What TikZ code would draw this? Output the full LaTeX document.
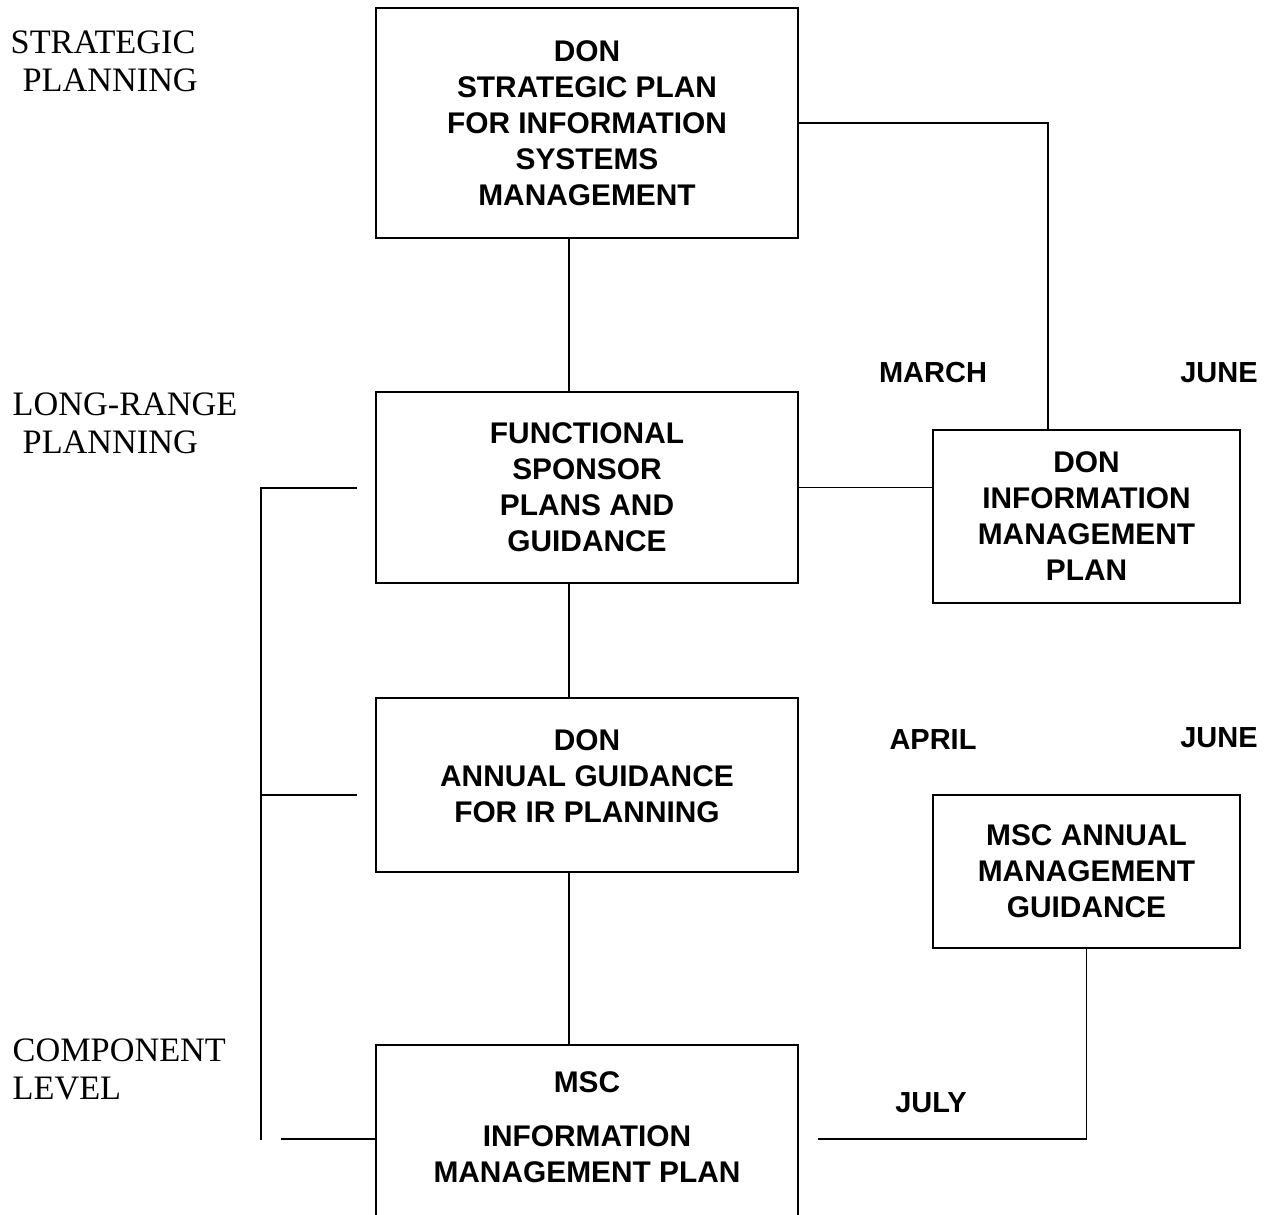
\documentclass[tikz,border=0pt]{standalone}
\usepackage{fontspec}
\setmainfont{Liberation Serif}
\setsansfont{Liberation Sans}
\usetikzlibrary{positioning}

\begin{document}
\begin{tikzpicture}[x=0.02cm,y=-0.02cm,line width=0.8pt,
                    box/.style={draw,rectangle,inner sep=0pt,align=center,font=\sffamily\bfseries\fontsize{17}{20.5}\selectfont},
                    boxtext/.style={inner sep=0pt,align=center,font=\sffamily\bfseries\fontsize{17}{20.5}\selectfont},
                    month/.style={inner sep=0pt,font=\sffamily\bfseries\fontsize{16.5}{20}\selectfont},
                    level/.style={inner sep=0pt,align=left,anchor=base west,font=\fontsize{19.5}{21.6}\selectfont}]
\clip (0,0) rectangle (1267,1214);

% planning levels
\node[level] (LStrat) at (10,91) {STRATEGIC\\\hspace{6.8pt}PLANNING};
\node[level] (LLong) at (12,453) {LONG-RANGE\\\hspace{5.7pt}PLANNING};
\node[level] (LComp) at (12,1099) {COMPONENT\\LEVEL};

% main column
\node[box,minimum width=8.44cm,minimum height=4.6cm] (Strat) at (587,123) {DON\\STRATEGIC PLAN\\FOR INFORMATION\\SYSTEMS\\MANAGEMENT};
\node[box,minimum width=8.44cm,minimum height=3.82cm] (Func) at (587,487.5) {FUNCTIONAL\\SPONSOR\\PLANS AND\\GUIDANCE};
\node[box,minimum width=8.44cm,minimum height=3.48cm] (Annual) at (587,785) {DON\\ANNUAL GUIDANCE\\FOR IR PLANNING\\[-16pt]\strut};
\node[box,minimum width=8.44cm,minimum height=4cm] (Msc) at (587,1145) {};
\node[boxtext] (MscText) at (587,1127) {MSC\\[10pt]INFORMATION\\MANAGEMENT PLAN};

% right column
\node[box,minimum width=6.14cm,minimum height=3.46cm] (DonIM) at (1086.5,516.5) {DON\\INFORMATION\\MANAGEMENT\\PLAN};
\node[box,minimum width=6.14cm,minimum height=3.06cm] (MscGuide) at (1086.5,871.5) {MSC ANNUAL\\MANAGEMENT\\GUIDANCE};

% months
\node[month] (March) at (933,373) {MARCH};
\node[month] (JuneA) at (1219,373) {JUNE};
\node[month] (April) at (933,740) {APRIL};
\node[month] (JuneB) at (1219,738) {JUNE};
\node[month] (July) at (931,1103) {JULY};

% connectors
\coordinate (Spine) at (569,0);
\coordinate (Riser) at (1048,0);
\coordinate (JulyEnd) at (818,1139);
\coordinate (RailTop) at (261,488);
\coordinate (RailBot) at (261,1140);
\coordinate (FuncStub) at (357,488);
\coordinate (AnnStub) at (357,795);
\coordinate (MscStub) at (281,1139);

\draw (Strat.south -| Spine) -- (Func.north -| Spine);
\draw (Func.south -| Spine) -- (Annual.north -| Spine);
\draw (Annual.south -| Spine) -- (Msc.north -| Spine);
\draw (Strat.east) -| (DonIM.north -| Riser);
\draw (Func.east) -- (Func.east -| DonIM.west);
\draw (MscGuide.south) |- (JulyEnd);
\draw (FuncStub) -- (RailTop) -- (RailBot);
\draw (AnnStub) -- (AnnStub -| RailTop);
\draw (MscStub) -- (MscStub -| Msc.west);

\end{tikzpicture}
\end{document}
